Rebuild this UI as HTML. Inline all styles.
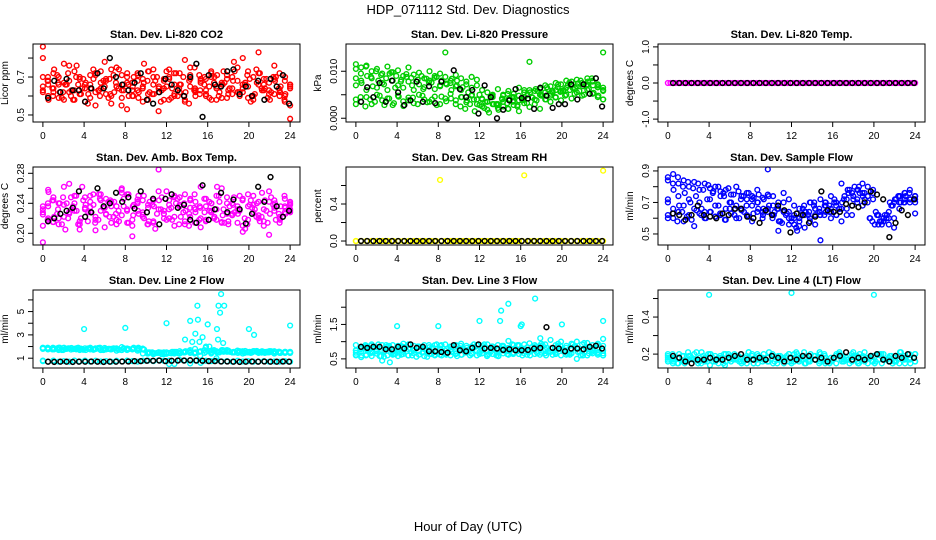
<!DOCTYPE html>
<html><head><meta charset="utf-8"><style>
html,body{margin:0;padding:0;background:#fff;}
svg{display:block;font-family:"Liberation Sans",sans-serif;}
</style></head><body>
<svg id="chart" width="936" height="540" viewBox="0 0 936 540">
<text x="468" y="14" text-anchor="middle" font-size="13">HDP_071112  Std. Dev. Diagnostics</text>
<text x="468" y="531" text-anchor="middle" font-size="13">Hour of Day (UTC)</text>
</svg>
<script>
const titles=["Stan. Dev. Li-820 CO2","Stan. Dev. Li-820 Pressure","Stan. Dev. Li-820 Temp.","Stan. Dev. Amb. Box Temp.","Stan. Dev. Gas Stream RH","Stan. Dev. Sample Flow","Stan. Dev. Line 2 Flow","Stan. Dev. Line 3 Flow","Stan. Dev. Line 4 (LT) Flow"];
const yTitles=["Licor ppm","kPa","degrees C","degrees C","percent","ml/min","ml/min","ml/min","ml/min"];
const xTicks=[0,4,8,12,16,20,24];
const yTicks=[[0.5,0.6,0.7,0.8],[0,0.005,0.010],[-1,-0.5,0,0.5,1],[0.20,0.22,0.24,0.26,0.28],[0,0.2,0.4,0.6],[0.5,0.6,0.7,0.8,0.9],[1,2,3,4,5,6],[0.5,1.0,1.5,2.0],[0.2,0.3,0.4,0.5]];
const yTickLabels=[["0.5","","0.7",""],["0.000","","0.010"],["-1.0","","0.0","","1.0"],["0.20","","0.24","","0.28"],["0.0","","0.4",""],["0.5","","0.7","","0.9"],["1","","3","","5",""],["0.5","","1.5",""],["0.2","","0.4",""]];
const yDomains=[[0.463,0.874],[-0.0008,0.0158],[-1.08,1.08],[0.1844,0.2884],[-0.043,0.80],[0.43,0.925],[0.16,6.85],[0.235,2.5],[0.125,0.546]];
const colors=["#ff0000","#00cd00","#ff00ff","#ff00ff","#ffff00","#0000ff","#00ffff","#00ffff","#00ffff"];

const co2A=[0.86,0.66,0.62,0.70,0.58,0.68,0.73,0.61,0.66,0.59,0.71,0.64,0.69,0.56,0.75,0.63,0.67,0.60,0.72,0.65,0.58,0.70,0.62,0.68,0.74,0.61,0.66,0.57,0.71,0.63,0.69,0.60,0.73,0.64,0.67,0.59,0.70,0.62,0.80,0.65,0.58,0.72,0.66,0.61,0.69,0.63,0.57,0.64];
const co2B=[0.63,0.60,0.72,0.66,0.77,0.62,0.58,0.69,0.64,0.71,0.55,0.67,0.61,0.74,0.65,0.59,0.70,0.63,0.68,0.57,0.73,0.66,0.52,0.64,0.69,0.60,0.72,0.58,0.75,0.62,0.67,0.61,0.70,0.65,0.59,0.71,0.64,0.68,0.62,0.73,0.60,0.66,0.69,0.63,0.76,0.60,0.68,0.55];
const co2C=[0.80,0.68,0.64,0.59,0.67,0.76,0.63,0.70,0.57,0.66,0.62,0.73,0.68,0.60,0.65,0.71,0.53,0.67,0.63,0.69,0.61,0.74,0.64,0.58,0.70,0.66,0.62,0.79,0.65,0.60,0.68,0.63,0.72,0.58,0.66,0.69,0.61,0.75,0.64,0.59,0.70,0.83,0.63,0.67,0.61,0.72,0.60,0.48];
const co2D=[0.65,0.70,0.60,0.67,0.62,0.72,0.58,0.66,0.69,0.61,0.74,0.63,0.68,0.59,0.71,0.64,0.66,0.60,0.70,0.62,0.67,0.73,0.61,0.65,0.69,0.58,0.72,0.64,0.60,0.68,0.63,0.71,0.66,0.59,0.70,0.62,0.67,0.64,0.73,0.60,0.66,0.69,0.61,0.72,0.64,0.58,0.68,0.62,0.70,0.65];
const co2E=[0.62,0.68,0.64,0.71,0.59,0.66,0.63,0.70,0.61,0.67,0.64,0.72,0.60,0.65,0.69,0.62,0.74,0.63,0.66,0.60,0.71,0.64,0.68,0.61,0.70,0.63,0.65,0.59,0.72,0.66,0.62,0.69,0.64,0.61,0.70,0.65,0.67,0.60,0.73,0.63,0.68,0.62,0.66,0.71,0.60,0.67,0.64,0.69,0.62,0.70,0.65,0.61,0.66];
const co2F=[0.70,0.58,0.74,0.62,0.66,0.60,0.76,0.64,0.56,0.69,0.63,0.78,0.61,0.67,0.55,0.72,0.65,0.59,0.77,0.62,0.68,0.57,0.73,0.64,0.60,0.70,0.56,0.75,0.63,0.69,0.58,0.71,0.66,0.61,0.78,0.62,0.67,0.57,0.74,0.63,0.59,0.70,0.64,0.58,0.66];
const co2Black=[0.59,0.68,0.62,0.69,0.63,0.63,0.57,0.64,0.72,0.64,0.80,0.70,0.66,0.63,0.67,0.72,0.58,0.56,0.62,0.69,0.66,0.63,0.60,0.70,0.77,0.49,0.71,0.66,0.65,0.73,0.74,0.61,0.65,0.60,0.68,0.58,0.69,0.65,0.71,0.56];

const presA=[0.0115,0.0108,0.0112,0.0100,0.0105,0.0095,0.0110,0.0098,0.0102,0.0090,0.0108,0.0093,0.0097,0.0085,0.0100,0.0090,0.0095,0.0088,0.0080,0.0092,0.0085,0.0078,0.0088,0.0082,0.0060,0.0055,0.0050,0.0062,0.0048,0.0058,0.0052,0.0065,0.0055,0.0060,0.0058,0.0062,0.0070,0.0068,0.0075,0.0072,0.0080,0.0078,0.0082,0.0075,0.0085,0.0080,0.0072,0.0140];
const presB=[0.0040,0.0035,0.0045,0.0030,0.0050,0.0038,0.0042,0.0028,0.0048,0.0036,0.0044,0.0032,0.0050,0.0040,0.0035,0.0046,0.0030,0.0042,0.0052,0.0038,0.0045,0.0034,0.0048,0.0040,0.0025,0.0018,0.0030,0.0022,0.0035,0.0020,0.0028,0.0015,0.0032,0.0024,0.0030,0.0020,0.0040,0.0035,0.0045,0.0038,0.0050,0.0042,0.0055,0.0048,0.0060,0.0052,0.0045,0.0040];
const presC=[0.0070,0.0080,0.0060,0.0085,0.0065,0.0075,0.0060,0.0080,0.0070,0.0065,0.0078,0.0060,0.0072,0.0066,0.0080,0.0062,0.0070,0.0140,0.0075,0.0068,0.0060,0.0072,0.0065,0.0070,0.0040,0.0035,0.0045,0.0030,0.0050,0.0040,0.0045,0.0038,0.0060,0.0120,0.0040,0.0050,0.0055,0.0048,0.0060,0.0058,0.0065,0.0070,0.0068,0.0075,0.0072,0.0078,0.0070,0.0065];
const presD=[0.0105,0.0095,0.0110,0.0088,0.0100,0.0092,0.0085,0.0098,0.0090,0.0082,0.0094,0.0086,0.0078,0.0090,0.0084,0.0076,0.0088,0.0080,0.0072,0.0084,0.0070,0.0045,0.0038,0.0050,0.0030,0.0042,0.0035,0.0048,0.0028,0.0040,0.0032,0.0045,0.0025,0.0038,0.0050,0.0044,0.0058,0.0048,0.0062,0.0055,0.0066,0.0058,0.0070,0.0064,0.0074,0.0068,0.0078,0.0070,0.0066,0.0060];
const presE=[0.0030,0.0045,0.0025,0.0040,0.0035,0.0048,0.0028,0.0042,0.0032,0.0046,0.0026,0.0038,0.0044,0.0030,0.0048,0.0034,0.0040,0.0028,0.0046,0.0036,0.0042,0.0030,0.0025,0.0020,0.0030,0.0015,0.0028,0.0022,0.0012,0.0030,0.0018,0.0025,0.0020,0.0035,0.0028,0.0040,0.0032,0.0045,0.0038,0.0048,0.0040,0.0052,0.0044,0.0056,0.0048,0.0060,0.0052,0.0058,0.0050,0.0062,0.0054,0.0048,0.0040];
const presF=[0.0085,0.0075,0.0090,0.0068,0.0080,0.0072,0.0095,0.0065,0.0078,0.0088,0.0070,0.0082,0.0062,0.0076,0.0086,0.0068,0.0074,0.0060,0.0080,0.0066,0.0055,0.0040,0.0050,0.0035,0.0046,0.0030,0.0042,0.0052,0.0038,0.0048,0.0045,0.0055,0.0062,0.0050,0.0066,0.0058,0.0072,0.0060,0.0076,0.0064,0.0080,0.0070,0.0085,0.0066,0.0058];
const presBlack=[0.0035,0.0066,0.0045,0.0075,0.0035,0.0080,0.0055,0.0028,0.0038,0.0078,0.0035,0.0068,0.0032,0.0078,0.0000,0.0102,0.0062,0.0045,0.0060,0.0010,0.0070,0.0045,0.0000,0.0018,0.0038,0.0062,0.0043,0.0042,0.0020,0.0065,0.0048,0.0022,0.0030,0.0030,0.0072,0.0040,0.0072,0.0052,0.0085,0.0025];

const tempA=[0,0,0,0,0,0,0,0,0,0,0,0,0,0,0,0,0,0,0,0,0,0,0,0,0,0,0,0,0,0,0,0,0,0,0,0,0,0,0,0,0,0,0,0,0,0,0,0,0,0,0,0,0,0,0,0,0,0,0,0,0,0,0,0,0,0,0,0,0,0,0,0,0,0,0,0,0,0,0,0,0,0,0,0,0,0,0,0,0,0,0,0,0,0,0,0];
const tempBlack=[0,0,0,0,0,0,0,0,0,0,0,0,0,0,0,0,0,0,0,0,0,0,0,0,0,0,0,0,0,0,0,0,0,0,0,0,0,0,0,0];

const boxA=[0.228,0.258,0.215,0.240,0.222,0.266,0.230,0.212,0.248,0.235,0.204,0.252,0.226,0.242,0.218,0.260,0.232,0.210,0.245,0.225,0.238,0.214,0.256,0.230,0.220,0.250,0.236,0.212,0.244,0.228,0.262,0.218,0.240,0.232,0.215,0.248,0.224,0.236,0.210,0.252,0.228,0.242,0.216,0.256,0.234,0.220,0.246,0.238];
const boxB=[0.188,0.236,0.248,0.220,0.262,0.228,0.240,0.205,0.232,0.250,0.218,0.244,0.225,0.236,0.212,0.254,0.230,0.196,0.242,0.222,0.234,0.216,0.285,0.226,0.244,0.210,0.238,0.252,0.222,0.232,0.208,0.246,0.230,0.218,0.260,0.226,0.240,0.214,0.202,0.236,0.250,0.220,0.232,0.198,0.244,0.214,0.228,0.240];
const boxC=[0.232,0.220,0.244,0.212,0.238,0.226,0.250,0.216,0.234,0.242,0.222,0.230,0.246,0.214,0.236,0.224,0.252,0.218,0.240,0.228,0.212,0.244,0.232,0.226,0.238,0.222,0.248,0.216,0.234,0.242,0.220,0.236,0.228,0.250,0.214,0.240,0.226,0.232,0.246,0.218,0.238,0.224,0.210,0.242,0.230,0.222,0.236,0.228];
const boxD=[0.225,0.240,0.215,0.232,0.248,0.220,0.236,0.212,0.244,0.228,0.252,0.218,0.234,0.242,0.222,0.230,0.246,0.214,0.238,0.226,0.250,0.216,0.236,0.244,0.220,0.232,0.248,0.212,0.240,0.226,0.234,0.218,0.246,0.230,0.222,0.242,0.214,0.236,0.228,0.250,0.220,0.238,0.232,0.216,0.244,0.226,0.240,0.218,0.234,0.230];
const boxE=[0.236,0.218,0.244,0.226,0.212,0.240,0.232,0.250,0.220,0.238,0.228,0.214,0.246,0.234,0.222,0.242,0.216,0.236,0.252,0.224,0.230,0.244,0.212,0.238,0.226,0.248,0.218,0.234,0.240,0.222,0.230,0.246,0.214,0.236,0.228,0.242,0.220,0.250,0.232,0.216,0.238,0.226,0.244,0.212,0.234,0.240,0.222,0.230,0.248,0.218,0.236,0.226,0.242];
const boxF=[0.210,0.255,0.222,0.240,0.205,0.248,0.230,0.262,0.216,0.238,0.252,0.208,0.244,0.226,0.258,0.214,0.236,0.250,0.220,0.242,0.206,0.232,0.256,0.218,0.246,0.228,0.210,0.252,0.234,0.216,0.240,0.262,0.224,0.212,0.248,0.230,0.206,0.244,0.222,0.254,0.214,0.238,0.226,0.250,0.232];
const boxBlack=[0.216,0.220,0.226,0.230,0.234,0.256,0.222,0.228,0.260,0.236,0.240,0.254,0.242,0.248,0.233,0.256,0.228,0.246,0.212,0.246,0.252,0.234,0.238,0.218,0.214,0.264,0.218,0.232,0.254,0.228,0.245,0.232,0.213,0.226,0.262,0.242,0.275,0.236,0.222,0.230];

const rhA=[0,0,0,0,0,0,0,0,0,0,0,0,0,0,0,0,0.66,0,0,0,0,0,0,0,0,0,0,0,0,0,0,0,0.71,0,0,0,0,0,0,0,0,0,0,0,0,0,0,0.76];
const rhB=[0,0,0,0,0,0,0,0,0,0,0,0,0,0,0,0,0,0,0,0,0,0,0,0,0,0,0,0,0,0,0,0,0,0,0,0,0,0,0,0,0,0,0,0,0,0,0];
const rhBlack=[0,0,0,0,0,0,0,0,0,0,0,0,0,0,0,0,0,0,0,0,0,0,0,0,0,0,0,0,0,0,0,0,0,0,0,0,0,0,0,0];

const flowA=[0.86,0.88,0.82,0.84,0.80,0.83,0.78,0.82,0.79,0.80,0.77,0.78,0.75,0.80,0.74,0.76,0.72,0.78,0.73,0.75,0.74,0.70,0.76,0.72,0.68,0.66,0.62,0.70,0.66,0.72,0.70,0.74,0.68,0.82,0.72,0.76,0.78,0.82,0.80,0.76,0.62,0.60,0.64,0.70,0.74,0.76,0.78,0.74];
const flowB=[0.62,0.60,0.64,0.58,0.62,0.55,0.63,0.60,0.64,0.61,0.62,0.59,0.63,0.60,0.65,0.62,0.58,0.64,0.60,0.66,0.62,0.52,0.64,0.60,0.56,0.60,0.54,0.58,0.62,0.46,0.64,0.60,0.62,0.58,0.66,0.62,0.70,0.68,0.74,0.72,0.56,0.58,0.56,0.60,0.70,0.72,0.70,0.63];
const flowC=[0.70,0.66,0.74,0.68,0.72,0.66,0.70,0.64,0.72,0.68,0.74,0.66,0.70,0.68,0.66,0.72,0.68,0.70,0.64,0.91,0.68,0.66,0.70,0.64,0.62,0.58,0.64,0.60,0.56,0.62,0.68,0.64,0.70,0.66,0.62,0.68,0.72,0.76,0.74,0.78,0.62,0.58,0.60,0.54,0.66,0.70,0.72,0.74];
const flowD=[0.84,0.82,0.86,0.80,0.83,0.79,0.82,0.78,0.81,0.77,0.80,0.76,0.79,0.75,0.77,0.74,0.76,0.73,0.75,0.72,0.74,0.62,0.58,0.64,0.56,0.60,0.55,0.68,0.64,0.70,0.66,0.62,0.68,0.72,0.66,0.74,0.78,0.80,0.76,0.72,0.60,0.56,0.58,0.62,0.70,0.72,0.74,0.76,0.72,0.74];
const flowE=[0.60,0.63,0.58,0.64,0.61,0.59,0.65,0.62,0.60,0.64,0.61,0.63,0.59,0.66,0.62,0.60,0.64,0.61,0.63,0.66,0.62,0.64,0.60,0.66,0.57,0.63,0.58,0.54,0.62,0.64,0.70,0.66,0.62,0.68,0.64,0.70,0.66,0.72,0.76,0.72,0.78,0.74,0.70,0.58,0.62,0.56,0.60,0.68,0.72,0.70,0.74,0.72,0.70];
const flowF=[0.72,0.78,0.68,0.76,0.70,0.74,0.66,0.72,0.76,0.68,0.74,0.70,0.66,0.72,0.68,0.74,0.70,0.66,0.68,0.64,0.58,0.62,0.60,0.52,0.66,0.62,0.68,0.64,0.70,0.66,0.62,0.70,0.78,0.74,0.80,0.76,0.60,0.64,0.58,0.62,0.68,0.74,0.70,0.76,0.72];
const flowBlack=[0.63,0.62,0.59,0.62,0.68,0.62,0.61,0.60,0.63,0.62,0.66,0.66,0.61,0.60,0.57,0.65,0.62,0.68,0.65,0.51,0.63,0.62,0.57,0.61,0.77,0.65,0.64,0.64,0.69,0.68,0.67,0.70,0.77,0.75,0.72,0.48,0.57,0.65,0.62,0.72];

const line2A=[1.9,1.85,1.8,1.9,1.75,1.85,1.8,1.7,1.85,1.75,1.8,1.7,1.8,1.75,1.85,1.7,1.8,1.75,1.65,1.8,1.4,1.45,1.5,1.4,1.45,1.5,1.4,1.55,1.45,1.5,1.6,1.55,1.4,1.0,1.6,1.7,1.5,1.6,1.55,1.5,1.6,1.45,1.55,1.5,1.6,1.45,1.55,1.5];
const line2B=[0.8,1.8,0.75,1.7,1.9,0.7,1.8,1.75,0.8,1.9,1.85,1.7,1.75,1.8,1.65,1.95,1.7,1.8,1.85,1.4,1.5,1.35,1.45,1.5,0.5,1.4,1.6,1.5,1.7,1.45,0.6,2.0,1.5,1.6,1.7,1.55,1.5,1.65,1.4,1.5,1.6,1.55,1.5,1.6,1.4,1.55,1.5,1.45];
const line2C=[0.75,0.7,0.8,0.7,0.75,0.7,0.8,0.72,0.75,0.7,0.78,0.72,0.75,0.7,0.78,0.72,0.8,0.75,0.7,0.78,0.8,0.75,0.82,0.78,0.8,0.5,0.85,0.8,0.55,0.8,0.6,0.78,0.75,0.8,0.72,0.75,0.7,0.78,0.72,0.75,0.7,0.72,0.75,0.7,0.72,0.7,0.75,0.7];
const line2D=[1.85,1.75,1.9,1.8,1.7,1.85,1.78,1.9,1.72,1.82,1.76,1.88,1.7,1.8,1.85,1.74,1.82,1.78,1.9,1.76,1.72,1.45,1.4,1.5,1.35,1.45,1.55,1.4,1.5,1.6,1.45,1.55,1.7,2.0,1.6,1.5,1.65,1.55,1.5,1.6,1.45,1.55,1.6,1.5,1.45,1.6,1.55,1.5,1.45,1.55];
const line2E=[1.8,1.9,1.75,1.85,1.7,1.8,1.88,1.76,1.82,1.7,1.86,1.78,1.9,1.74,1.8,1.84,1.72,1.86,1.78,1.8,1.76,1.82,1.4,1.5,1.45,1.35,1.5,1.42,1.55,1.48,1.6,1.5,1.8,1.55,1.45,1.6,1.7,1.5,1.55,1.65,1.5,1.45,1.6,1.55,1.5,1.62,1.48,1.55,1.6,1.5,1.45,1.55,1.5];
const line2F=[1.88,1.82,1.76,1.9,1.8,1.74,1.86,1.78,1.84,1.72,1.8,1.88,1.76,1.82,1.7,1.84,1.78,1.9,1.75,1.5,1.42,1.48,1.38,1.55,1.45,1.5,1.6,1.4,1.2,1.9,1.65,1.5,1.7,1.6,1.55,1.5,1.62,1.45,1.55,1.6,1.5,1.48,1.56,1.5,1.45];
const line2OutHours=[4,8,12,13.8,14.3,14.5,14.8,15,15.05,15.2,15.5,16,16.9,17,17.05,17.2,17.3,17.5,17.6,20,20.5,24];
const line2OutVals=[3.5,3.6,4.0,2.6,4.2,2.4,3.1,5.5,4.3,2.4,2.8,3.9,3.5,2.6,5.5,4.9,6.5,2.3,5.5,3.5,3.0,3.8];
const line2Black=[0.7,0.68,0.7,0.7,0.68,0.7,0.7,0.72,0.7,0.68,0.7,0.7,0.72,0.72,0.75,0.75,0.78,0.78,0.8,0.75,0.78,0.8,0.8,0.82,0.8,0.78,0.75,0.75,0.72,0.72,0.7,0.68,0.7,0.72,0.7,0.72,0.7,0.7,0.72,0.7];

const line3A=[0.6,0.55,0.62,0.58,0.65,0.45,0.6,0.62,0.58,0.64,0.6,0.66,0.62,0.58,0.64,0.6,0.62,0.66,0.6,0.64,0.62,0.68,0.64,0.6,0.66,0.62,0.64,0.58,0.66,0.62,0.68,0.64,0.66,0.7,0.64,0.62,0.66,0.7,0.64,0.6,0.62,0.66,0.5,0.64,0.6,0.66,0.62,0.6];
const line3B=[0.9,0.85,0.88,0.92,0.84,0.9,0.86,0.9,0.88,0.85,0.92,0.88,0.86,0.9,0.84,0.9,0.88,0.92,0.86,0.9,0.94,0.88,0.86,0.9,0.88,0.92,0.86,0.9,0.88,1.02,0.9,0.88,0.92,0.95,0.9,0.88,0.92,1.05,0.9,1.0,0.88,0.94,1.0,0.92,0.96,0.9,0.94,1.08];
const line3C=[0.75,0.72,0.78,0.7,0.76,0.74,0.8,0.72,0.76,0.7,0.78,0.74,0.72,0.78,0.76,0.7,0.8,0.74,0.76,0.72,0.78,0.75,0.8,0.74,0.78,0.72,0.8,0.76,0.74,0.82,0.78,0.76,0.8,0.74,0.82,0.78,0.76,0.8,0.74,0.78,0.82,0.76,0.8,0.74,0.78,0.76,0.8,0.74];
const line3D=[0.68,0.82,0.6,0.88,0.72,0.58,0.9,0.66,0.8,0.62,0.86,0.7,0.56,0.84,0.74,0.64,0.92,0.6,0.78,0.7,0.88,0.62,0.82,0.66,0.9,0.74,0.58,0.86,0.68,0.8,0.64,0.92,0.72,0.6,0.84,0.76,0.66,0.9,0.7,0.62,0.86,0.78,0.64,0.92,0.7,0.6,0.84,0.74,0.66,0.88];
const line3E=[0.62,0.78,0.9,0.66,0.84,0.58,0.72,0.88,0.64,0.8,0.94,0.6,0.76,0.86,0.68,0.56,0.82,0.7,0.9,0.62,0.78,0.66,0.88,0.74,0.6,0.84,0.7,0.92,0.64,0.8,0.58,0.86,0.72,0.66,0.9,0.76,0.62,0.84,0.7,0.94,0.6,0.8,0.68,0.88,0.74,0.62,0.86,0.72,0.96,0.66,0.82,0.7,0.6];
const line3F=[0.74,0.6,0.86,0.68,0.92,0.56,0.8,0.64,0.88,0.72,0.6,0.84,0.7,0.9,0.62,0.78,0.66,0.86,0.58,0.8,0.72,0.92,0.64,0.84,0.7,0.6,0.88,0.76,0.64,0.9,0.72,0.6,0.86,0.68,0.82,0.62,0.94,0.74,0.66,0.88,0.6,0.8,0.7,0.9,0.66];
const line3OutHours=[3.3,4,8,12,14,14.1,14.8,16,16.1,17.4,17.9,20,24];
const line3OutVals=[0.4,1.45,1.45,1.6,1.6,1.9,2.1,1.45,1.5,2.25,1.1,1.5,1.6];
const line3Black=[0.85,0.82,0.85,0.85,0.78,0.78,0.85,0.8,0.92,0.82,0.85,0.72,0.72,0.7,0.68,0.9,0.75,0.72,0.82,0.92,0.8,0.82,0.8,0.76,0.78,0.75,0.75,0.76,0.8,0.82,1.42,0.82,0.8,0.72,0.8,0.8,0.78,0.85,0.88,0.8];

const line4A=[0.19,0.17,0.18,0.16,0.19,0.17,0.18,0.16,0.2,0.17,0.18,0.16,0.19,0.17,0.18,0.15,0.19,0.17,0.18,0.16,0.19,0.17,0.18,0.16,0.2,0.17,0.18,0.16,0.19,0.17,0.18,0.16,0.19,0.17,0.18,0.16,0.19,0.17,0.18,0.16,0.2,0.17,0.18,0.16,0.19,0.17,0.18,0.16];
const line4B=[0.16,0.18,0.15,0.19,0.17,0.2,0.16,0.18,0.14,0.19,0.17,0.2,0.16,0.18,0.15,0.19,0.17,0.2,0.16,0.18,0.15,0.19,0.17,0.2,0.16,0.18,0.15,0.19,0.17,0.2,0.16,0.18,0.15,0.19,0.17,0.2,0.16,0.18,0.15,0.19,0.17,0.2,0.16,0.18,0.15,0.19,0.17,0.2];
const line4C=[0.2,0.15,0.18,0.16,0.21,0.17,0.15,0.19,0.2,0.16,0.18,0.15,0.2,0.17,0.19,0.16,0.21,0.15,0.18,0.2,0.16,0.19,0.17,0.15,0.2,0.18,0.16,0.21,0.17,0.19,0.15,0.2,0.16,0.18,0.21,0.17,0.15,0.19,0.2,0.16,0.18,0.15,0.2,0.17,0.19,0.16,0.21,0.15,0.18,0.2];
const line4D=[0.17,0.2,0.15,0.19,0.16,0.18,0.21,0.15,0.17,0.2,0.16,0.19,0.14,0.18,0.2,0.16,0.17,0.21,0.15,0.19,0.18,0.16,0.2,0.15,0.17,0.19,0.16,0.21,0.18,0.15,0.2,0.17,0.16,0.19,0.15,0.18,0.2,0.16,0.17,0.21,0.15,0.19,0.18,0.16,0.2,0.15,0.17,0.19,0.16,0.21,0.18,0.15,0.2];
const line4E=[0.18,0.16,0.2,0.15,0.19,0.17,0.21,0.16,0.18,0.15,0.2,0.17,0.19,0.16,0.18,0.2,0.15,0.17,0.21,0.16,0.19,0.18,0.15,0.2,0.17,0.16,0.19,0.21,0.15,0.18,0.2,0.16,0.17,0.19,0.15,0.21,0.18,0.16,0.2,0.17,0.15,0.19,0.18,0.2,0.16];
const line4OutHours=[4,12,20];
const line4OutVals=[0.52,0.53,0.52];
const line4Black=[0.19,0.18,0.16,0.15,0.17,0.17,0.18,0.17,0.17,0.18,0.19,0.2,0.17,0.17,0.18,0.17,0.19,0.18,0.16,0.18,0.17,0.19,0.19,0.17,0.18,0.16,0.18,0.19,0.21,0.17,0.18,0.17,0.19,0.2,0.17,0.16,0.19,0.18,0.2,0.18];

const colorSeries=[[co2A,co2B,co2C,co2D,co2E,co2F],[presA,presB,presC,presD,presE,presF],[tempA],[boxA,boxB,boxC,boxD,boxE,boxF],[rhA,rhB],[flowA,flowB,flowC,flowD,flowE,flowF],[line2A,line2B,line2C,line2D,line2E,line2F],[line3A,line3B,line3C,line3D,line3E,line3F],[line4A,line4B,line4C,line4D,line4E]];
const outHours=[[],[],[],[],[],[],line2OutHours,line3OutHours,line4OutHours];
const outVals=[[],[],[],[],[],[],line2OutVals,line3OutVals,line4OutVals];
const blackSeries=[co2Black,presBlack,tempBlack,boxBlack,rhBlack,flowBlack,line2Black,line3Black,line4Black];

const NS="http://www.w3.org/2000/svg";
const svg=document.getElementById('chart');
function mk(tag,attrs,parent){const e=document.createElementNS(NS,tag);for(const k in attrs)e.setAttribute(k,attrs[k]);(parent||svg).appendChild(e);return e;}
const colLeft=[33,346,658], rowTop=[44,167,290], W=267, H=78;
for(let p=0;p<9;p++){
  const L=colLeft[p%3], T=rowTop[Math.floor(p/3)];
  const g=mk('g',{});
  
  
  const xs=v=>L+(v+0.96)/25.92*W;
  const [y0,y1]=yDomains[p];
  const ys=v=>T+H-(v-y0)/(y1-y0)*H;
  const tt=mk('text',{x:L+W/2,y:T-6,'text-anchor':'middle','font-size':11,'font-weight':'bold'},g);
  tt.textContent=titles[p];
  
  
  const cg=mk('g',{fill:'none',stroke:colors[p],'stroke-width':1.4},g);
  
  
  colorSeries[p].forEach(arr=>{arr.forEach((v,i)=>{const hr=i*24/(arr.length-1);
    const c=mk('circle',{cx:xs(hr),cy:ys(v),r:2.4},cg);
    
    });});
  outHours[p].forEach((h,i)=>{const c=mk('circle',{cx:xs(h),cy:ys(outVals[p][i]),r:2.4},cg);
    
    });
  const bg=mk('g',{fill:'none',stroke:'#000','stroke-width':1.5},g);
  
  
  const ba=blackSeries[p];
  ba.forEach((v,i)=>{const hr=0.5+i*23.4/(ba.length-1);
    const c=mk('circle',{cx:xs(hr),cy:ys(v),r:2.4},bg);
    
    });
  const box=mk('rect',{x:L,y:T,width:W,height:H,fill:'none',stroke:'#000','stroke-width':1},g);
  
  
  const xa=mk('g',{stroke:'#000','stroke-width':1},g);
  
  
  mk('line',{x1:xs(0),x2:xs(24),y1:T+H,y2:T+H},xa);
  xTicks.forEach(t=>{mk('line',{x1:xs(t),x2:xs(t),y1:T+H,y2:T+H+5},xa);
    const tx=mk('text',{x:xs(t),y:T+H+17,'text-anchor':'middle','font-size':10,stroke:'none'},xa);
    tx.textContent=t;
    
    });
  const ya=mk('g',{stroke:'#000','stroke-width':1},g);
  
  
  const yt=yTicks[p];
  mk('line',{x1:L,x2:L,y1:ys(yt[0]),y2:ys(yt[yt.length-1])},ya);
  yt.forEach((t,i)=>{const y=ys(t);mk('line',{x1:L-5,x2:L,y1:y,y2:y},ya);
    const lab=yTickLabels[p][i];
    if(lab){const tx=mk('text',{x:L-9,y:y,'text-anchor':'middle','font-size':10,stroke:'none',transform:`rotate(-90 ${L-9} ${y})`},ya);
      tx.textContent=lab;
      
      }});
  const yl=mk('text',{x:L-25,y:T+H/2,'text-anchor':'middle','font-size':10,transform:`rotate(-90 ${L-25} ${T+H/2})`},g);
  yl.textContent=yTitles[p];
  
  
}
</script>
</body></html>
